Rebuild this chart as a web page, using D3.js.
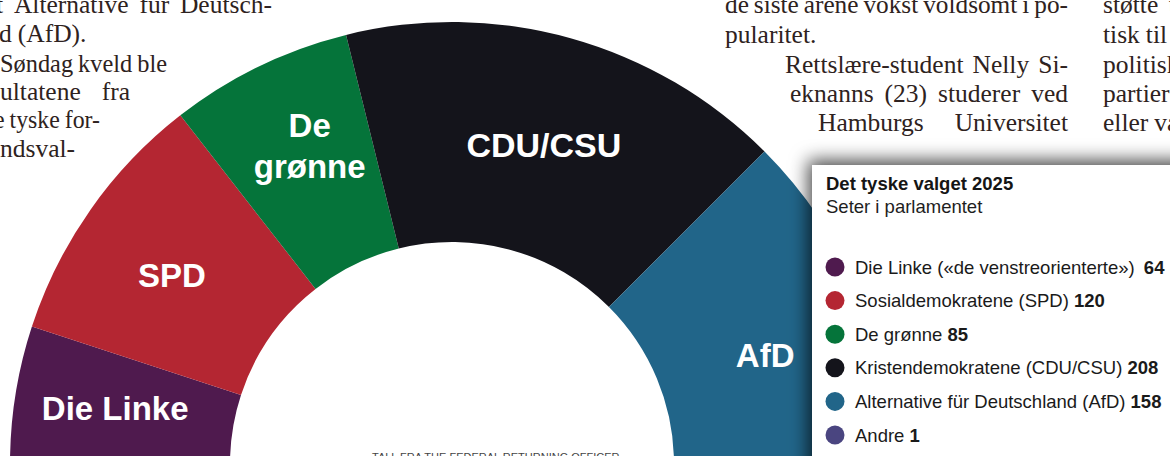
<!DOCTYPE html>
<html><head><meta charset="utf-8">
<script src="https://cdn.jsdelivr.net/npm/d3@7"></script>
<style>html,body{margin:0;padding:0;background:#fff;overflow:hidden}svg{display:block}</style>
</head><body>
<svg id="c" width="1170" height="456"></svg>
<script>
// ---- data ----
const parties = ["Die Linke", "SPD", "De grønne", "CDU/CSU", "AfD", "Andre"];
const seats = [64, 120, 85, 208, 158, 1];
const arcLabels = [["Die Linke"], ["SPD"], ["De", "grønne"], ["CDU/CSU"], ["AfD"], []];
const legendNames = ["Die Linke («de venstreorienterte»)", "Sosialdemokratene (SPD)", "De grønne",
  "Kristendemokratene (CDU/CSU)", "Alternative für Deutschland (AfD)", "Andre"];
const colors = ["#4f1a4e", "#b42632", "#05743a", "#14141b", "#216589", "#4a4580"];
const legendTitle = "Det tyske valget 2025";
const legendSubtitle = "Seter i parlamentet";
const sourceText = "TALL FRA THE FEDERAL RETURNING OFFICER";
// body text lines of the surrounding article: [x0, x1 (justify target or null), baseline, text]
const bodyLines = [
  [-4, 272, 13, "t Alternative für Deutsch-"],
  [-1, null, 42, "d (AfD)."],
  [0, 167, 72, "Søndag kveld ble"],
  [0, 130, 100, "ultatene fra"],
  [-6, 100, 128, "e tyske for-"],
  [0, null, 157, "ndsval-"],
  [725, 1068, 13, "de siste årene vokst voldsomt i po-"],
  [725, null, 43, "pularitet."],
  [785, 1068, 73, "Rettslære-student Nelly Si-"],
  [790, 1068, 102, "eknanns (23) studerer ved"],
  [818, 1068, 131, "Hamburgs Universitet"],
  [1103, 1190, 13, "støtte til"],
  [1103, null, 43, "tisk til"],
  [1103, null, 73, "politiske"],
  [1103, null, 102, "partier"],
  [1103, null, 131, "eller valg"]
];

const svg = d3.select("#c");
const cx = 452, cy = 464, rOuter = 442, rInner = 222, rLabel = 335;
// small placement nudges for the in-arc labels (layout only)
const labelNudge = {"Die Linke": [-6, -3], "SPD": [-6, 4], "De grønne": [4, -17], "CDU/CSU": [2, 4], "AfD": [4, 20], "Andre": [0, 0]};

const defs = svg.append("defs");
const f = defs.append("filter").attr("id", "sh").attr("x", "-20%").attr("y", "-30%").attr("width", "150%").attr("height", "160%");
f.append("feDropShadow").attr("dx", -4).attr("dy", -5).attr("stdDeviation", 9)
  .attr("flood-color", "#000").attr("flood-opacity", 0.7);

// ---- body text ----
const body = svg.append("g").attr("font-family", "'Liberation Serif', serif").attr("font-size", 25.5).attr("fill", "#2e2220");
bodyLines.forEach(([x0, x1, y, txt]) => {
  const words = txt.split(" ");
  const ts = body.selectAll(null).data(words).join("text").attr("y", y).text(d => d);
  let widths = ts.nodes().map(n => n.getComputedTextLength());
  const sum = d3.sum(widths);
  let gap = 6;
  if (x1 != null && words.length > 1) {
    gap = (x1 - x0 - sum) / (words.length - 1);
    if (gap < 5) {
      const s = (x1 - x0 - 5 * (words.length - 1)) / sum;
      widths = widths.map(w => w * s);
      ts.attr("textLength", (d, i) => widths[i]).attr("lengthAdjust", "spacingAndGlyphs");
      gap = 5;
    }
  }
  let x = x0;
  ts.attr("x", (d, i) => { const p = x; x += widths[i] + gap; return p; });
});

// ---- half donut ----
const pie = d3.pie().sort(null).value(d => d).startAngle(-Math.PI / 2).endAngle(Math.PI / 2);
const arcs = pie(seats);
const arc = d3.arc().innerRadius(rInner).outerRadius(rOuter);
const labelArc = d3.arc().innerRadius(rLabel).outerRadius(rLabel);
const g = svg.append("g").attr("transform", `translate(${cx},${cy})`);
g.selectAll("path").data(arcs).join("path").attr("d", arc).attr("fill", (d, i) => colors[i]);
g.selectAll("text.lab").data(arcs).join("text").attr("class", "lab")
  .attr("transform", (d, i) => {
    const [x, y] = labelArc.centroid(d); const n = labelNudge[parties[i]];
    return `translate(${x + n[0]},${y + n[1]})`;
  })
  .attr("text-anchor", "middle")
  .attr("font-family", "'Liberation Sans', Arial, sans-serif").attr("font-weight", "bold")
  .attr("font-size", (d, i) => parties[i] === "CDU/CSU" ? 34 : 33).attr("fill", "#fff")
  .each(function (d, i) {
    const lines = arcLabels[i];
    const lh = 41;
    d3.select(this).selectAll("tspan").data(lines).join("tspan")
      .attr("x", 0).attr("y", (l, j) => (j - (lines.length - 1) / 2) * lh + 12).text(l => l);
  });

// source
svg.append("text").attr("x", 372).attr("y", 461).attr("font-family", "'Liberation Sans', Arial, sans-serif")
  .attr("font-size", 11).attr("fill", "#444").text(sourceText);

// ---- legend box ----
const lg = svg.append("g");
lg.append("rect").attr("x", 812).attr("y", 165).attr("width", 420).attr("height", 330)
  .attr("fill", "#fff").attr("filter", "url(#sh)");
lg.append("text").attr("x", 826).attr("y", 190).attr("font-family", "'Liberation Sans', Arial, sans-serif")
  .attr("font-weight", "bold").attr("font-size", 18.5).attr("fill", "#151515").text(legendTitle);
lg.append("text").attr("x", 826).attr("y", 213).attr("font-family", "'Liberation Sans', Arial, sans-serif")
  .attr("font-size", 18.5).attr("fill", "#1e1e1e").text(legendSubtitle);
const y = d3.scalePoint().domain(parties).range([267, 435]);
const items = lg.selectAll("g.it").data(parties).join("g").attr("class", "it")
  .attr("transform", d => `translate(0,${y(d)})`);
items.append("circle").attr("cx", 835).attr("cy", 0).attr("r", 9.5).attr("fill", (d, i) => colors[i]);
const it = items.append("text").attr("x", 855).attr("y", 6.5)
  .attr("font-family", "'Liberation Sans', Arial, sans-serif").attr("font-size", 18.5).attr("fill", "#1a1a1a");
it.append("tspan").text((d, i) => legendNames[i] + " ");
it.append("tspan").attr("font-weight", "bold").attr("dx", (d, i) => i === 0 ? 4 : 0).text((d, i) => seats[i]);
</script>
</body></html>
